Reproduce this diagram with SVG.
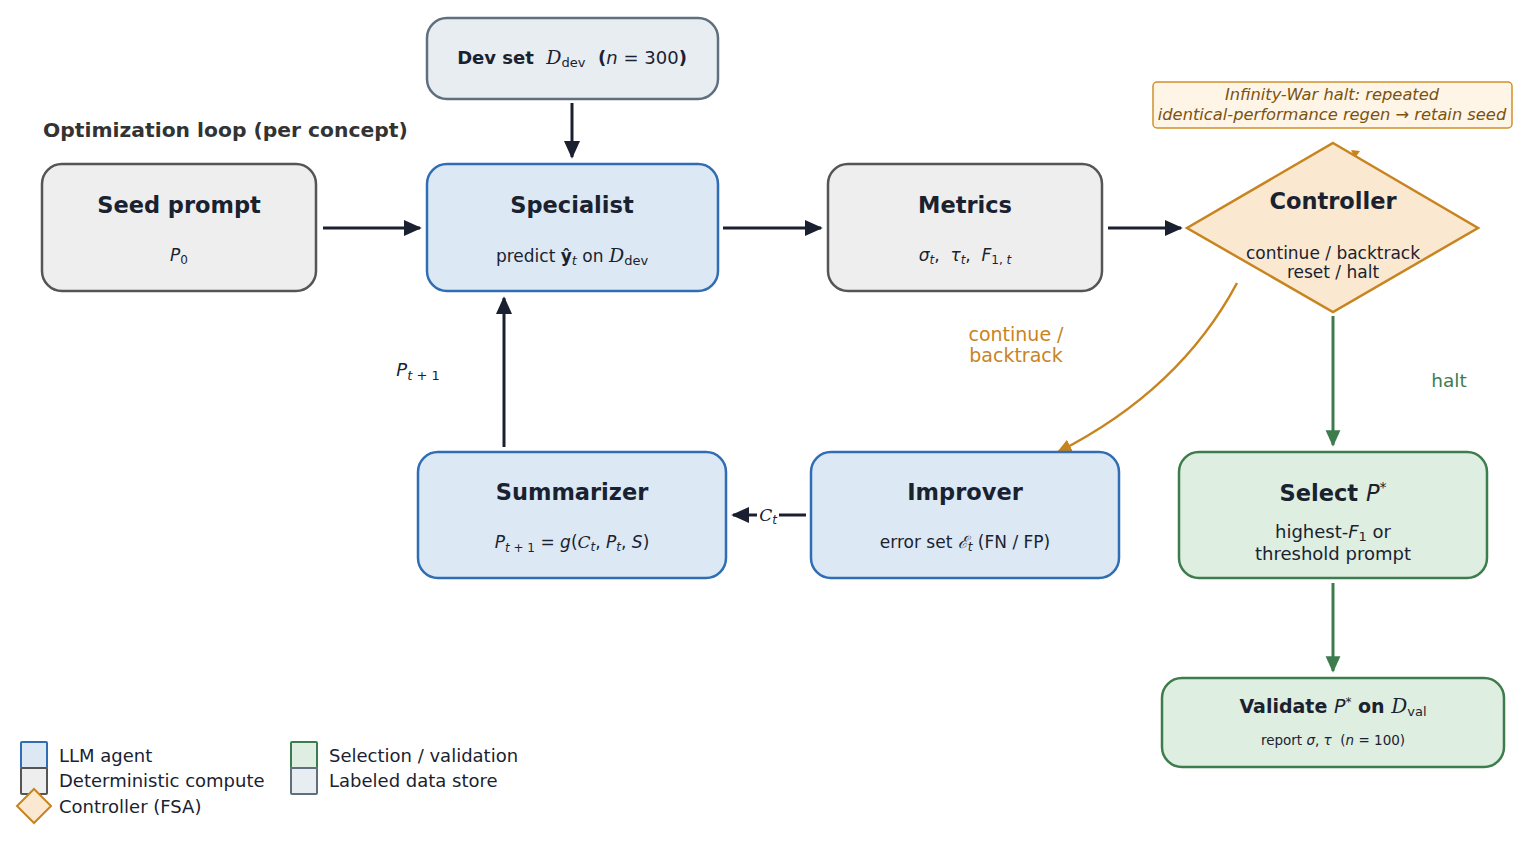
<svg xmlns="http://www.w3.org/2000/svg" width="1530" height="841" viewBox="0 0 1530 841">
<defs>
<style>
text{font-family:"DejaVu Sans","Liberation Sans",sans-serif;fill:#1a2230;white-space:pre}
.t{font-size:22.5px;font-weight:bold;text-anchor:middle}
.s{font-size:17px;text-anchor:middle}
.i{font-style:italic}
.m{font-family:"DejaVu Serif","Liberation Serif",serif;font-style:italic}
.agent{fill:#dce8f4;stroke:#2f6db5;stroke-width:2.5}
.comp{fill:#eeeeee;stroke:#555555;stroke-width:2.5}
.data{fill:#e8edf2;stroke:#5f6f80;stroke-width:2.5}
.sel{fill:#deeee0;stroke:#3d7d4d;stroke-width:2.5}
.ctl{fill:#fbe8d0;stroke:#c8841e;stroke-width:2.5}
.dk{stroke:#1a2030;stroke-width:3;fill:none}
.or{stroke:#c8841e;stroke-width:2.5;fill:none}
.gr{stroke:#3d7d4d;stroke-width:3;fill:none}
.leg{font-size:18px}
</style>
<marker id="ad" viewBox="0 0 10 10" refX="9" refY="5" markerWidth="6" markerHeight="6" orient="auto" markerUnits="strokeWidth"><path d="M0,0.5 L10,5 L0,9.5 z" fill="#1a2030"/></marker>
<marker id="ao" viewBox="0 0 10 10" refX="9" refY="5" markerWidth="6" markerHeight="6" orient="auto" markerUnits="strokeWidth"><path d="M0,0.5 L10,5 L0,9.5 z" fill="#c8841e"/></marker>
<marker id="ag" viewBox="0 0 10 10" refX="9" refY="5" markerWidth="5.5" markerHeight="5.5" orient="auto" markerUnits="strokeWidth"><path d="M0,0.5 L10,5 L0,9.5 z" fill="#3d7d4d"/></marker>
</defs>
<rect width="1530" height="841" fill="#ffffff"/>

<text x="43" y="137" style="font-size:20.3px;font-weight:bold;fill:#333333">Optimization loop (per concept)</text>

<g id="connectors">
<line class="dk" x1="572" y1="103" x2="572" y2="157" marker-end="url(#ad)"/>
<line class="dk" x1="323" y1="228" x2="420" y2="228" marker-end="url(#ad)"/>
<line class="dk" x1="723" y1="228" x2="821" y2="228" marker-end="url(#ad)"/>
<line class="dk" x1="1108" y1="228" x2="1181" y2="228" marker-end="url(#ad)"/>
<line class="dk" x1="504" y1="447" x2="504" y2="298" marker-end="url(#ad)"/>
<line class="dk" x1="806" y1="515" x2="733" y2="515" marker-end="url(#ad)"/>
<path class="or" d="M1237,283 Q1180,390 1058,452" marker-end="url(#ao)"/>
<path d="M1351,150 L1360,151 L1355,158 z" fill="#c8841e"/>
<line class="gr" x1="1333" y1="316" x2="1333" y2="445" marker-end="url(#ag)"/>
<line class="gr" x1="1333" y1="583" x2="1333" y2="671" marker-end="url(#ag)"/>
<rect x="757" y="503" width="22" height="24" fill="#ffffff"/>
<text x="768" y="521" class="s"><tspan class="m">C</tspan><tspan class="i" font-size="12" dy="3">t</tspan></text>
<text x="418" y="376" class="s"><tspan class="i" font-size="18">P</tspan><tspan class="i" font-size="13" dy="4">t</tspan><tspan font-size="13"> + 1</tspan></text>
<text x="1016" y="341" class="s" style="fill:#c8841e;font-size:19px">continue /</text>
<text x="1016" y="362" class="s" style="fill:#c8841e;font-size:19px">backtrack</text>
<text x="1449" y="387" class="s" style="fill:#3d7d4d;font-size:18.5px">halt</text>
</g>

<g id="devset">
<rect class="data" x="427" y="18" width="291" height="81" rx="20"/>
<text x="572" y="64" class="s" style="font-size:18px"><tspan font-weight="bold">Dev set&#160;&#160;</tspan><tspan class="m" font-size="19">D</tspan><tspan font-size="13" dy="3">dev</tspan><tspan dy="-3" font-weight="bold">&#160;&#160;(</tspan><tspan class="i">n</tspan><tspan>&#160;=&#160;300</tspan><tspan font-weight="bold">)</tspan></text>
</g>

<g id="seed">
<rect class="comp" x="42" y="164" width="274" height="127" rx="20"/>
<text x="179" y="213" class="t">Seed prompt</text>
<text x="179" y="261" class="s"><tspan class="i">P</tspan><tspan font-size="12" dy="3">0</tspan></text>
</g>

<g id="specialist">
<rect class="agent" x="427" y="164" width="291" height="127" rx="20"/>
<text x="572" y="213" class="t">Specialist</text>
<text x="572" y="262" class="s">predict <tspan font-weight="bold">ŷ</tspan><tspan class="i" font-size="13" dy="3">t</tspan><tspan dy="-3"> on </tspan><tspan class="m" font-size="19">D</tspan><tspan font-size="13" dy="3">dev</tspan></text>
</g>

<g id="metrics">
<rect class="comp" x="828" y="164" width="274" height="127" rx="20"/>
<text x="965" y="261" class="s"><tspan class="i">σ</tspan><tspan class="i" font-size="12" dy="3">t</tspan><tspan dy="-3">,&#160;&#160;</tspan><tspan class="i">τ</tspan><tspan class="i" font-size="12" dy="3">t</tspan><tspan dy="-3">,&#160;&#160;</tspan><tspan class="i">F</tspan><tspan font-size="12" dy="3">1,&#160;</tspan><tspan class="i" font-size="12">t</tspan></text>
<text x="965" y="213" class="t">Metrics</text>
</g>

<g id="note">
<rect x="1153" y="82" width="359" height="46" rx="4" fill="#fff5e6" stroke="#d0902a" stroke-width="1.5"/>
<text x="1332" y="100" class="s i" style="fill:#7a5310;font-size:16.3px">Infinity-War halt: repeated</text>
<text x="1332" y="120" class="s i" style="fill:#7a5310;font-size:16.3px">identical-performance regen → retain seed</text>
</g>

<g id="controller">
<polygon class="ctl" points="1333,143 1478,228 1333,312 1187,228"/>
<text x="1333" y="209" class="t">Controller</text>
<text x="1333" y="259" class="s">continue / backtrack</text>
<text x="1333" y="278" class="s">reset / halt</text>
</g>

<g id="summarizer">
<rect class="agent" x="418" y="452" width="308" height="126" rx="20"/>
<text x="572" y="500" class="t">Summarizer</text>
<text x="572" y="548" class="s"><tspan class="i">P</tspan><tspan class="i" font-size="12" dy="4">t</tspan><tspan font-size="12"> + 1</tspan><tspan dy="-4">&#160;=&#160;</tspan><tspan class="i">g</tspan><tspan>(</tspan><tspan class="m">C</tspan><tspan class="i" font-size="12" dy="3">t</tspan><tspan dy="-3">, </tspan><tspan class="i">P</tspan><tspan class="i" font-size="12" dy="3">t</tspan><tspan dy="-3">, </tspan><tspan class="i">S</tspan><tspan>)</tspan></text>
</g>

<g id="improver">
<rect class="agent" x="811" y="452" width="308" height="126" rx="20"/>
<text x="965" y="500" class="t">Improver</text>
<text x="965" y="548" class="s">error set <tspan class="m">ℰ</tspan><tspan class="i" font-size="12" dy="3">t</tspan><tspan dy="-3"> (FN / FP)</tspan></text>
</g>

<g id="select">
<rect class="sel" x="1179" y="452" width="308" height="126" rx="20"/>
<text x="1333" y="501" class="t">Select <tspan font-weight="normal" class="i">P</tspan><tspan font-weight="normal" font-size="14" dy="-9">*</tspan></text>
<text x="1333" y="538" class="s" style="font-size:18px">highest-<tspan class="i">F</tspan><tspan font-size="13" dy="3">1</tspan><tspan dy="-3"> or</tspan></text>
<text x="1333" y="560" class="s" style="font-size:18px">threshold prompt</text>
</g>

<g id="validate">
<rect class="sel" x="1162" y="678" width="342" height="89" rx="20"/>
<text x="1333" y="713" class="s" style="font-size:19px"><tspan font-weight="bold">Validate </tspan><tspan class="i">P</tspan><tspan font-size="12" dy="-7">*</tspan><tspan dy="7" font-weight="bold"> on </tspan><tspan class="m" font-size="20">D</tspan><tspan font-size="13" dy="3">val</tspan></text>
<text x="1333" y="745" class="s" style="font-size:13.5px">report <tspan class="i">σ</tspan>, <tspan class="i">τ</tspan>&#160;&#160;(<tspan class="i">n</tspan>&#160;=&#160;100)</text>
</g>

<g id="legend">
<rect class="agent" x="21" y="742" width="26" height="26" rx="1" style="stroke-width:2"/>
<rect class="comp" x="21" y="768" width="26" height="26" rx="1" style="stroke-width:2"/>
<polygon class="ctl" points="34,789 51,806 34,823 17,806" style="stroke-width:2"/>
<text x="59" y="762" class="leg">LLM agent</text>
<text x="59" y="787" class="leg">Deterministic compute</text>
<text x="59" y="813" class="leg">Controller (FSA)</text>
<rect class="sel" x="291" y="742" width="26" height="26" rx="1" style="stroke-width:2"/>
<rect class="data" x="291" y="768" width="26" height="26" rx="1" style="stroke-width:2"/>
<text x="329" y="762" class="leg">Selection / validation</text>
<text x="329" y="787" class="leg">Labeled data store</text>
</g>
</svg>
